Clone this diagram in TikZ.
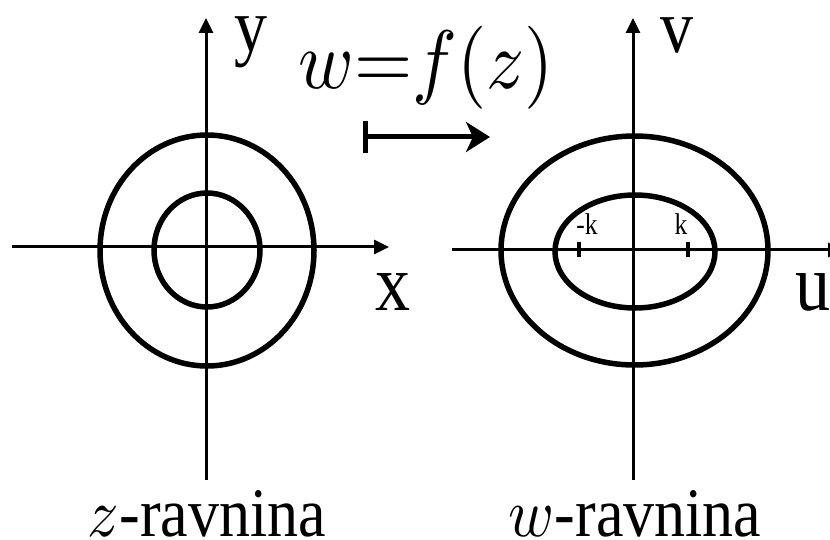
\documentclass[tikz,border=0pt]{standalone}
\usepackage{fontspec}
\setmainfont{Liberation Serif}
\usetikzlibrary{arrows.meta}
\begin{document}
\begin{tikzpicture}[x=1pt,y=-1pt,
  axis/.style={line width=3pt,-{Triangle[length=15pt,width=14pt]}},
  curve/.style={line width=5.5pt},
  tickmark/.style={line width=3.5pt},
  lbl/.style={inner sep=0pt,anchor=base},
  maparrow/.style={line width=5pt,{Bar[width=32pt,line width=5pt]}-{Stealth[length=24pt,width=30pt,inset=7pt]}}
]
\useasboundingbox (0,0) rectangle (830,540);
\clip (0,0) rectangle (830,540);
% axis end points
\coordinate (zxa) at (12,247);
\coordinate (zxb) at (389,247);
\coordinate (zya) at (206,480);
\coordinate (zyb) at (206,18);
\coordinate (wxa) at (452,250);
\coordinate (wxb) at (843,250);
\coordinate (wya) at (633,480);
\coordinate (wyb) at (633,18);
\coordinate (ma) at (363,137);
\coordinate (mb) at (490,137);
% z-plane
\draw[axis] (zxa) -- (zxb);
\draw[axis] (zya) -- (zyb);
\draw[curve] (207,250.5) ellipse [x radius=107pt, y radius=115.5pt];
\draw[curve] (207,250) ellipse [x radius=53pt, y radius=57pt];
% w-plane
\draw[axis] (wxa) -- (wxb);
\draw[axis] (wya) -- (wyb);
\draw[curve] (634.5,250.5) ellipse [x radius=133.5pt, y radius=114.5pt];
\draw[curve] (635,251.5) ellipse [x radius=80pt, y radius=56.5pt];
\coordinate (kma) at (579,242);
\coordinate (kmb) at (579,257);
\coordinate (kpa) at (688,242);
\coordinate (kpb) at (688,257);
\draw[tickmark] (kma) -- (kmb);
\draw[tickmark] (kpa) -- (kpb);
% mapping arrow
\draw[maparrow] (ma) -- (mb);
% labels
\node[lbl] (ylab) at (251,52) {\scalebox{1}[1.15]{\fontsize{66}{70}\selectfont y}};
\node[lbl] (vlab) at (677,53) {\scalebox{1}[1.15]{\fontsize{66}{70}\selectfont v}};
\node[lbl] (xlab) at (393,310) {\scalebox{1}[1.15]{\fontsize{70}{74}\selectfont x}};
\node[lbl] (ulab) at (813,310) {\scalebox{1}[1.15]{\fontsize{70}{74}\selectfont u}};
\node[lbl] (mklab) at (587,235) {\scalebox{0.85}[1]{\fontsize{30}{32}\selectfont -k}};
\node[lbl] (pklab) at (681,235) {\scalebox{0.85}[1]{\fontsize{30}{32}\selectfont k}};
\node[lbl] (flab) at (426,89) {\scalebox{7.5}[8.3]{$w{=}f(z)$}};
\node[lbl] (zlab) at (207,536) {\scalebox{6.2}[6.9]{$z$}\scalebox{1}[1.12]{\fontsize{62}{66}\selectfont -ravnina}};
\node[lbl] (wlab) at (635,536) {\scalebox{6.2}[6.9]{$w$}\scalebox{1}[1.12]{\fontsize{62}{66}\selectfont -ravnina}};
\end{tikzpicture}
\end{document}
